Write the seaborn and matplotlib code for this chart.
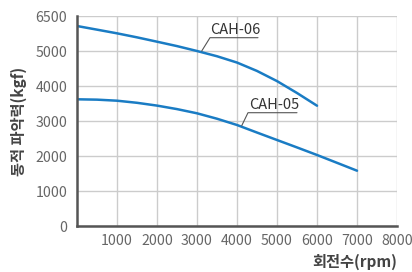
import matplotlib
matplotlib.use('Agg')
import matplotlib.pyplot as plt
import seaborn as sns
import pandas as pd

# 회전수 (rpm) 와 동적 파악력 (kgf) - 그림에서 읽은 값
rpm_06 = [0, 500, 1000, 1500, 2000, 2500, 3000, 3500, 4000, 4500, 5000, 5500, 6000]
force_06 = [5714, 5610, 5505, 5390, 5266, 5140, 5000, 4850, 4670, 4430, 4140, 3800, 3437]

rpm_05 = [0, 500, 1000, 1500, 2000, 2500, 3000, 3500, 4000, 4500, 5000, 5500, 6000, 6500, 7000]
force_05 = [3620, 3610, 3580, 3520, 3440, 3340, 3220, 3065, 2886, 2670, 2457, 2245, 2029, 1805, 1580]

series_names = ['CAH-06', 'CAH-05']

x_ticks = [1000, 2000, 3000, 4000, 5000, 6000, 7000, 8000]
y_ticks = [0, 1000, 2000, 3000, 4000, 5000, 6000]
y_tick_labels = ['0', '1000', '2000', '3000', '4000', '5000', '6500']

# label anchor (point on curve) and underline start/end, in data units
label_points = {'CAH-06': (3118, 5000), 'CAH-05': (4118, 2866)}
label_lines = {'CAH-06': (3325, 4525, 5380), 'CAH-05': (4275, 5500, 3237)}

df = pd.concat([
    pd.DataFrame({'rpm': rpm_06, 'force': force_06, 'model': series_names[0]}),
    pd.DataFrame({'rpm': rpm_05, 'force': force_05, 'model': series_names[1]}),
])

sns.set_style('white')
plt.rcParams['font.family'] = ['Noto Sans CJK KR', 'DejaVu Sans']

fig = plt.figure(figsize=(4.12, 2.72), dpi=100)
ax = fig.add_axes([77 / 412, 1 - 226 / 272, 320 / 412, 210 / 272])

blue = '#1a7cc4'
sns.lineplot(data=df, x='rpm', y='force', hue='model', palette=[blue, blue],
             linewidth=1.8, legend=False, ax=ax, estimator=None, sort=False)

ax.set_xlim(0, 8000)
ax.set_ylim(0, 6000)
ax.set_xticks(x_ticks)
ax.set_xticklabels([str(t) for t in x_ticks])
ax.set_yticks(y_ticks)
ax.set_yticklabels(y_tick_labels)
ax.grid(True, color='#cccccc', linewidth=1.0)
ax.set_axisbelow(True)

for s in ['top', 'right']:
    ax.spines[s].set_visible(False)
for s in ['left', 'bottom']:
    ax.spines[s].set_color('#555555')
    ax.spines[s].set_linewidth(1.8)

ax.tick_params(axis='both', length=0, labelsize=10.2, labelcolor='#666666')
ax.tick_params(axis='y', pad=7)
ax.tick_params(axis='x', pad=6)

for name in series_names:
    px, py = label_points[name]
    x0, x1, yl = label_lines[name]
    ax.plot([px, x0, x1], [py, yl, yl], color='#555555', linewidth=0.8)
    ax.text((x0 + x1) / 2 + 30, yl + 20, name, ha='center', va='bottom',
            fontsize=10.5, color='#333333')

ax.set_ylabel('동적 파악력(kgf)', fontsize=11, fontweight='bold', color='#444444', labelpad=6)
ax.set_xlabel('회전수(rpm)', fontsize=11, fontweight='bold', color='#444444')
ax.xaxis.set_label_coords(1.0, -0.17)
ax.xaxis.label.set_horizontalalignment('right')
ax.xaxis.label.set_verticalalignment('center')

fig.savefig('out.png', dpi=100)
